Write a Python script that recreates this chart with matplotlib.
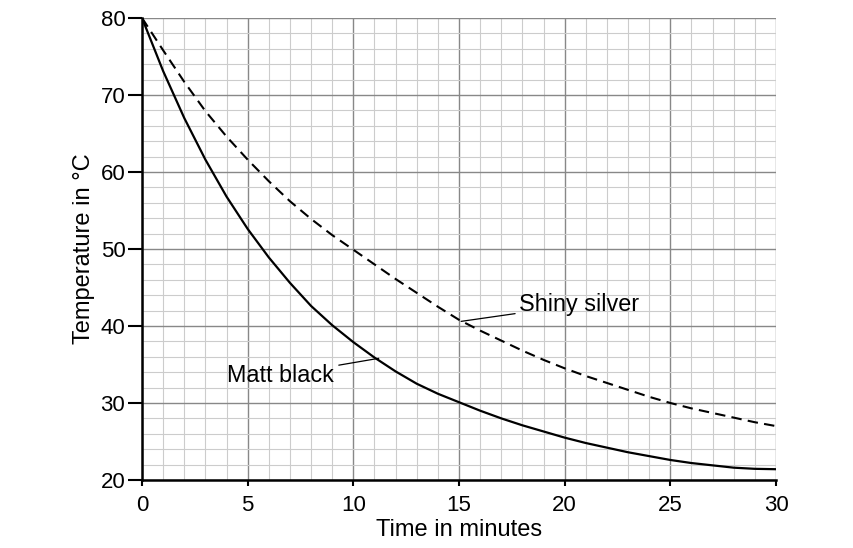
import matplotlib.pyplot as plt
from matplotlib.ticker import MultipleLocator

plt.rcParams['font.family'] = ['Liberation Sans', 'DejaVu Sans']

# readings (time in minutes, temperature in degC)
time_black = list(range(0, 31))
temp_black = [80, 73.1, 67.0, 61.6, 56.8, 52.6, 48.9, 45.6, 42.6, 40.1, 37.9,
              35.9, 34.1, 32.5, 31.2, 30.1, 29.0, 28.0, 27.1, 26.3, 25.5,
              24.8, 24.2, 23.6, 23.1, 22.6, 22.2, 21.9, 21.6, 21.45, 21.4]

time_silver = list(range(0, 31))
temp_silver = [80, 75.8, 71.7, 67.9, 64.6, 61.6, 58.8, 56.2, 53.9, 51.8, 49.9,
               48.0, 46.1, 44.3, 42.5, 40.8, 39.4, 38.1, 36.8, 35.6, 34.5,
               33.5, 32.6, 31.7, 30.8, 30.0, 29.3, 28.7, 28.1, 27.5, 27.0]

fig = plt.figure(figsize=(8.54, 5.48), dpi=100)
ax = fig.add_axes([0.1663, 0.1241, 0.7424, 0.8431])

ax.plot(time_black, temp_black, color='black', lw=1.6, solid_joinstyle='round', zorder=3)
ax.plot(time_silver, temp_silver, color='black', lw=1.5, dashes=(5, 3), zorder=3)

ax.set_xlim(0, 30)
ax.set_ylim(20, 80)
ax.xaxis.set_major_locator(MultipleLocator(5))
ax.xaxis.set_minor_locator(MultipleLocator(1))
ax.yaxis.set_major_locator(MultipleLocator(10))
ax.yaxis.set_minor_locator(MultipleLocator(2))

ax.grid(which='minor', color='#cccccc', lw=0.8)
ax.grid(which='major', color='#888888', lw=1.0)
ax.set_axisbelow(True)

for side in ['top', 'right']:
    ax.spines[side].set_visible(False)
for side in ['left', 'bottom']:
    ax.spines[side].set_linewidth(1.8)
    ax.spines[side].set_zorder(4)

ax.tick_params(which='minor', length=0)
ax.tick_params(axis='y', which='major', length=10, width=1.5, pad=2, labelsize=16)
ax.tick_params(axis='x', which='major', length=4, width=1.5, pad=7, labelsize=16)

ax.set_xlabel('Time in minutes', fontsize=17, labelpad=2)
ax.set_ylabel('Temperature in °C', fontsize=17, labelpad=4)

ax.annotate('Matt black', xy=(11.2, 35.8), xytext=(9.05, 33.6),
            fontsize=16.8, ha='right', va='center',
            arrowprops=dict(arrowstyle='-', color='black', lw=0.9, shrinkA=2, shrinkB=0))
ax.annotate('Shiny silver', xy=(15.1, 40.6), xytext=(17.85, 42.8),
            fontsize=16.8, ha='left', va='center',
            arrowprops=dict(arrowstyle='-', color='black', lw=0.9, shrinkA=1, shrinkB=0))

fig.savefig('out.png', dpi=100)
